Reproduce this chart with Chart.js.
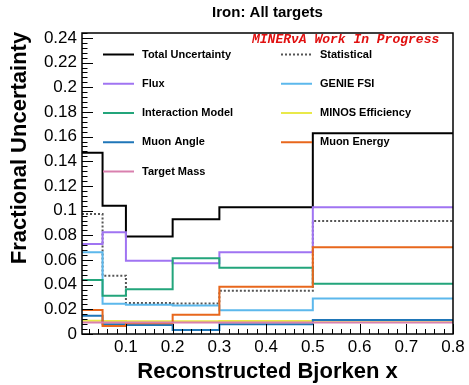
<!DOCTYPE html>
<html>
<head>
<meta charset="utf-8">
<script src="https://cdn.jsdelivr.net/npm/chart.js@4/dist/chart.umd.min.js"></script>
<style>
  body { margin: 0; background: #fff; }
  #wrap { width: 469px; height: 385px; }
</style>
</head>
<body>
<div id="wrap"><canvas id="chart" width="469" height="385"></canvas></div>
<script>
// Bin edges in reconstructed Bjorken x
const binEdges = [0.006, 0.05, 0.1, 0.2, 0.3, 0.5, 0.8];

// Fractional uncertainty per bin
const totalUnc = [0.147, 0.104, 0.079, 0.093, 0.1027, 0.1627];
const statUnc = [0.0973, 0.0473, 0.0251, 0.0248, 0.0351, 0.0916];
const fluxUnc = [0.073, 0.0824, 0.0594, 0.0573, 0.0662, 0.1027];
const genieFsiUnc = [0.0662, 0.0245, 0.0237, 0.0232, 0.0192, 0.0288];
const interactionUnc = [0.0438, 0.031, 0.0362, 0.0614, 0.0537, 0.0408];
const minosEffUnc = [0.0108, 0.0105, 0.0104, 0.0104, 0.0105, 0.0108];
const muonAngleUnc = [0.0148, 0.0079, 0.0073, 0.0033, 0.0079, 0.0113];
const muonEnergyUnc = [0.0195, 0.0065, 0.0087, 0.0156, 0.0384, 0.0703];
const targetMassUnc = [0.0093, 0.0093, 0.0093, 0.0093, 0.0093, 0.0094];

const yTickStep = 0.02;

const FONT = "'Liberation Sans', Arial, sans-serif";

// legend entries, two columns like the ROOT legend
const series = [
  { label: "Total Uncertainty", values: totalUnc, color: "#000000" },
  { label: "Statistical", values: statUnc, color: "#555555", dash: [2, 2] },
  { label: "Flux", values: fluxUnc, color: "#a074f2" },
  { label: "GENIE FSI", values: genieFsiUnc, color: "#5cb8ec" },
  { label: "Interaction Model", values: interactionUnc, color: "#23a57b" },
  { label: "MINOS Efficiency", values: minosEffUnc, color: "#e9e94a" },
  { label: "Muon Angle", values: muonAngleUnc, color: "#1f76b8" },
  { label: "Muon Energy", values: muonEnergyUnc, color: "#e8671c" },
  { label: "Target Mass", values: targetMassUnc, color: "#d980ae" },
];

// histogram points: left edge of each bin, plus the last right edge
function histPoints(values) {
  const pts = values.map((v, i) => ({ x: binEdges[i], y: v }));
  pts.push({ x: binEdges[binEdges.length - 1], y: values[values.length - 1] });
  return pts;
}

const datasets = series.map((s, i) => ({
  label: s.label,
  data: histPoints(s.values),
  borderColor: s.color,
  borderWidth: 2,
  borderDash: s.dash || [],
  stepped: "before",
  pointRadius: 0,
  fill: false,
  order: series.length - i,
}));

// frame, ticks, titles and legend drawn the ROOT way
const rootStyle = {
  id: "rootStyle",
  afterDraw(chart) {
    const ctx = chart.ctx;
    const area = chart.chartArea;
    const xs = chart.scales.x;
    const ys = chart.scales.y;
    ctx.save();

    // tick marks
    ctx.strokeStyle = "#000";
    ctx.lineWidth = 1;
    ctx.beginPath();
    for (let i = 0; i * 0.004 <= ys.max + 1e-9; i++) {
      const py = Math.round(ys.getPixelForValue(i * 0.004)) + 0.5;
      const len = i % 5 === 0 ? 11 : 5.5;
      ctx.moveTo(area.left, py);
      ctx.lineTo(area.left + len, py);
    }
    for (let i = 0; i * 0.02 <= xs.max + 1e-9; i++) {
      const v = i * 0.02;
      if (v < xs.min) continue;
      const px = Math.round(xs.getPixelForValue(v)) + 0.5;
      const len = i % 5 === 0 ? 10 : 5;
      ctx.moveTo(px, area.bottom);
      ctx.lineTo(px, area.bottom - len);
    }
    ctx.stroke();

    // frame
    ctx.lineWidth = 1.5;
    ctx.strokeRect(area.left, area.top, area.right - area.left, area.bottom - area.top);

    // titles
    ctx.fillStyle = "#000";
    ctx.textAlign = "center";
    ctx.textBaseline = "middle";
    ctx.font = "bold 15px " + FONT;
    ctx.fillText("Iron: All targets", (area.left + area.right) / 2, 13);
    ctx.font = "bold 22px " + FONT;
    ctx.fillText("Reconstructed Bjorken x", (area.left + area.right) / 2, 372);
    ctx.save();
    ctx.translate(20, 148);
    ctx.rotate(-Math.PI / 2);
    ctx.fillText("Fractional Uncertainty", 0, 0);
    ctx.restore();

    // work in progress label
    ctx.font = "italic bold 13px 'Liberation Mono', 'DejaVu Sans Mono', monospace";
    ctx.fillStyle = "#e01010";
    ctx.textAlign = "left";
    ctx.fillText("MINER\u03BDA Work In Progress", area.left + 170, area.top + 7);

    // legend
    ctx.font = "bold 11px " + FONT;
    ctx.fillStyle = "#000";
    series.forEach((s, i) => {
      const col = i % 2;
      const row = Math.floor(i / 2);
      const lx = area.left + (col === 0 ? 21 : 199);
      const ly = area.top + 21.5 + row * 29.25;
      ctx.strokeStyle = s.color;
      ctx.lineWidth = 2;
      ctx.setLineDash(s.dash || []);
      ctx.beginPath();
      ctx.moveTo(lx, ly);
      ctx.lineTo(lx + 31, ly);
      ctx.stroke();
      ctx.setLineDash([]);
      ctx.fillText(s.label, lx + 39, ly);
    });

    ctx.restore();
  },
};

new Chart(document.getElementById("chart"), {
  type: "line",
  data: { datasets: datasets },
  plugins: [rootStyle],
  options: {
    responsive: false,
    animation: false,
    layout: { padding: { top: 33, right: 16, left: 0, bottom: 0 } },
    plugins: {
      legend: { display: false },
      tooltip: { enabled: false },
      title: { display: false },
    },
    scales: {
      x: {
        type: "linear",
        min: binEdges[0],
        max: 0.8,
        grid: { display: false, drawTicks: false },
        border: { display: false },
        ticks: {
          stepSize: 0.1,
          includeBounds: false,
          padding: 3,
          color: "#000",
          font: { family: FONT, size: 17 },
          callback: (v) => parseFloat(v.toFixed(3)).toString(),
        },
        afterFit: (scale) => { scale.height = 51; },
      },
      y: {
        min: 0,
        max: 0.244,
        grid: { display: false, drawTicks: false },
        border: { display: false },
        ticks: {
          stepSize: yTickStep,
          includeBounds: false,
          padding: 5,
          color: "#000",
          font: { family: FONT, size: 17 },
          callback: (v) => parseFloat(v.toFixed(3)).toString(),
        },
        afterFit: (scale) => { scale.width = 82; },
      },
    },
  },
});
</script>
</body>
</html>
